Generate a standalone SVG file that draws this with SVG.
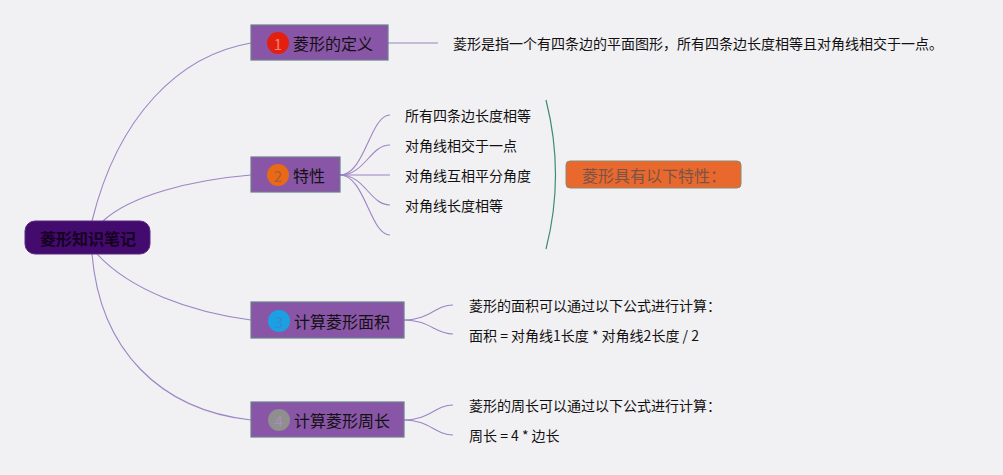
<svg xmlns="http://www.w3.org/2000/svg" width="1003" height="475" viewBox="0 0 1003 475">
<style>
text{font-family:"Noto Sans CJK SC","Liberation Sans",sans-serif;dominant-baseline:central}
.conn{fill:none;stroke:#9c84c4;stroke-width:1.1}
.topic{fill:#8955a6;stroke:#6a7f8e;stroke-width:1.2}
.tt{font-size:16px;fill:#111}
.num{font-size:15px;text-anchor:middle}
.leaf{font-size:14px;fill:#111}
</style>
<rect width="1003" height="475" fill="#f1f0f3"/>
<g id="connectors">
<path class="conn" d="M92,221 C118,115 180,55 251,43"/>
<path class="conn" d="M103,221 C130,196 190,180 251,175"/>
<path class="conn" d="M97,254 C130,290 190,312 251,320"/>
<path class="conn" d="M92,254 C100,350 160,410 251,420"/>
<path class="conn" d="M388,43 L438,43"/>
<path class="conn" d="M340,175 C365,175 370,115 390,115"/>
<path class="conn" d="M340,175 C365,175 370,145 390,145"/>
<path class="conn" d="M340,175 L390,175" stroke-width="1.6"/>
<path class="conn" d="M340,175 C365,175 370,205 390,205"/>
<path class="conn" d="M340,175 C365,175 370,235 390,235"/>
<path class="conn" d="M404,320 C430,320 435,305 453,305"/>
<path class="conn" d="M404,320 C430,320 435,334 453,334"/>
<path class="conn" d="M404,420 C430,420 435,405 453,405"/>
<path class="conn" d="M404,420 C430,420 435,435 453,435"/>
<path d="M546,100 Q565,175 546,249" fill="none" stroke="#3e8c6e" stroke-width="1.2"/>
</g>
<g id="root">
<rect x="25" y="221" width="125" height="33" rx="10" fill="#430b6e" stroke="#5a2a80"/>
<text x="88" y="238" text-anchor="middle" font-size="16" font-weight="bold" fill="#160022">菱形知识笔记</text>
</g>
<g id="node1">
<rect class="topic" x="251" y="25" width="137" height="35"/>
<circle cx="278" cy="43" r="11" fill="#e3200f"/>
<text class="num" x="278" y="43" fill="#f5806e">1</text>
<text class="tt" x="293" y="43">菱形的定义</text>
</g>
<g id="node1-desc">
<text x="453" y="43" font-size="14" fill="#111">菱形是指一个有四条边的平面图形，所有四条边长度相等且对角线相交于一点。</text>
</g>
<g id="node2">
<rect class="topic" x="251" y="157" width="89" height="35"/>
<circle cx="278" cy="175" r="11" fill="#e86a17"/>
<text class="num" x="278" y="175" fill="#b05a38">2</text>
<text class="tt" x="293" y="175">特性</text>
</g>
<g id="node2-children">
<text class="leaf" x="405" y="115">所有四条边长度相等</text>
<text class="leaf" x="405" y="145">对角线相交于一点</text>
<text class="leaf" x="405" y="175">对角线互相平分角度</text>
<text class="leaf" x="405" y="205">对角线长度相等</text>
</g>
<g id="summary">
<rect x="566" y="161" width="175" height="27" rx="4" fill="#e8682e" stroke="#8c8a70" stroke-width="1"/>
<text x="582" y="175" font-size="16" fill="#7a5448">菱形具有以下特性：</text>
</g>
<g id="node3">
<rect class="topic" x="251" y="302" width="153" height="36"/>
<circle cx="279" cy="321" r="11" fill="#1ba1e2"/>
<text class="num" x="279" y="321" fill="#3a86d8">3</text>
<text class="tt" x="294" y="321">计算菱形面积</text>
</g>
<g id="node3-children">
<text class="leaf" x="469" y="305">菱形的面积可以通过以下公式进行计算：</text>
<text class="leaf" x="469" y="335">面积 = 对角线1长度 * 对角线2长度 / 2</text>
</g>
<g id="node4">
<rect class="topic" x="251" y="402" width="153" height="35"/>
<circle cx="279" cy="420" r="11" fill="#8f8f8f"/>
<text class="num" x="279" y="420" fill="#a890b8">4</text>
<text class="tt" x="294" y="420">计算菱形周长</text>
</g>
<g id="node4-children">
<text class="leaf" x="469" y="405">菱形的周长可以通过以下公式进行计算：</text>
<text class="leaf" x="469" y="435">周长 = 4 * 边长</text>
</g>
</svg>
